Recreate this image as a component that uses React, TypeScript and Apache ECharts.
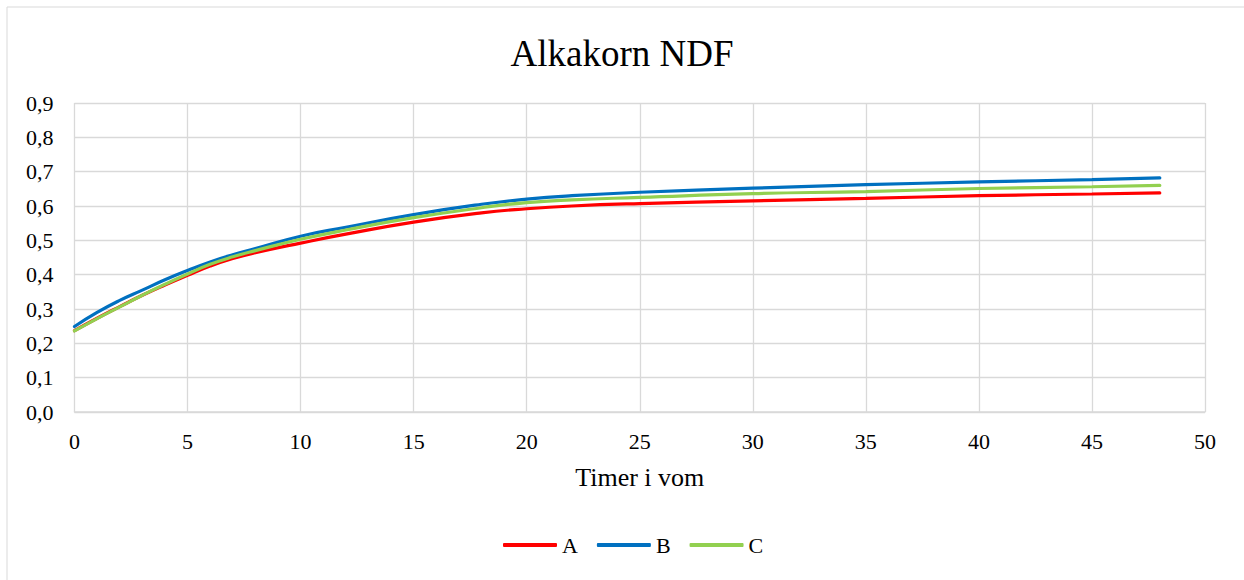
import React, { useEffect, useRef } from "react";
import * as echarts from "echarts";

const hours = [0, 1, 2, 3, 4, 5, 6, 7, 8, 10, 12, 15, 18, 20, 22, 25, 30, 35, 40, 45, 48];
const seriesA = [0.237, 0.273, 0.307, 0.34, 0.37, 0.398, 0.425, 0.447, 0.464, 0.492, 0.518, 0.553, 0.58, 0.592, 0.6, 0.607, 0.615, 0.622, 0.63, 0.635, 0.638];
const seriesB = [0.249, 0.29, 0.325, 0.355, 0.385, 0.412, 0.437, 0.458, 0.476, 0.512, 0.538, 0.575, 0.605, 0.62, 0.63, 0.64, 0.652, 0.662, 0.67, 0.677, 0.682];
const seriesC = [0.236, 0.272, 0.306, 0.34, 0.372, 0.402, 0.43, 0.452, 0.47, 0.503, 0.53, 0.566, 0.595, 0.61, 0.618, 0.625, 0.636, 0.642, 0.651, 0.656, 0.66];
const seriesNames = ["A", "B", "C"];
const colors = ["#FF0000", "#0070C0", "#92D050"];
const titleText = "Alkakorn NDF";
const xAxisName = "Timer i vom";

const FONT = "Liberation Serif, Times New Roman, serif";

export default function App() {
  const ref = useRef<HTMLDivElement>(null);
  useEffect(() => {
    if (!ref.current) return;
    const chart = echarts.init(ref.current, null, { renderer: "svg" });
    const data = [seriesA, seriesB, seriesC];
    chart.setOption({
      animation: false,
      backgroundColor: "#ffffff",
      textStyle: { fontFamily: FONT, color: "#000" },
      title: {
        text: titleText,
        left: "center",
        top: 30,
        textStyle: { fontFamily: FONT, fontSize: 37, fontWeight: "normal", color: "#000" },
      },
      graphic: [
        {
          type: "rect",
          shape: { x: 7, y: 7, width: 1400, height: 800 },
          style: { fill: "none", stroke: "#d9d9d9", lineWidth: 1 },
          silent: true,
        },
      ],
      legend: {
        data: seriesNames,
        icon: "roundRect",
        left: 498,
        top: 529,
        itemWidth: 54,
        itemHeight: 4,
        itemGap: 19,
        textStyle: { fontFamily: FONT, fontSize: 22, color: "#000" },
      },
      grid: { left: 74.5, right: 39, top: 103, bottom: 168, containLabel: false },
      xAxis: {
        type: "value",
        min: 0,
        max: 50,
        interval: 5,
        name: xAxisName,
        nameLocation: "middle",
        nameGap: 52,
        nameTextStyle: { fontFamily: FONT, fontSize: 26, color: "#000" },
        axisLine: { show: true, lineStyle: { color: "#d9d9d9", width: 1.5 } },
        axisTick: { show: false },
        axisLabel: { fontFamily: FONT, fontSize: 22, color: "#000", margin: 18 },
        splitLine: { show: true, lineStyle: { color: "#d9d9d9", width: 1.3 } },
      },
      yAxis: {
        type: "value",
        min: 0,
        max: 0.9,
        interval: 0.1,
        axisLine: { show: false },
        axisTick: { show: false },
        axisLabel: {
          fontFamily: FONT,
          fontSize: 22,
          color: "#000",
          margin: 21,
          formatter: (v: number) => v.toFixed(1).replace(".", ","),
        },
        splitLine: { show: true, lineStyle: { color: "#d9d9d9", width: 1.3 } },
      },
      series: seriesNames.map((name, i) => ({
        name,
        type: "line",
        smooth: true,
        symbol: "none",
        showSymbol: false,
        color: colors[i],
        itemStyle: { color: colors[i] },
        lineStyle: { color: colors[i], width: 3.2, cap: "round" },
        data: hours.map((h, j) => [h, data[i][j]]),
      })),
    });
    return () => chart.dispose();
  }, []);
  return <div ref={ref} style={{ position: "fixed", left: 0, top: 0, width: 1244, height: 580 }} />;
}
